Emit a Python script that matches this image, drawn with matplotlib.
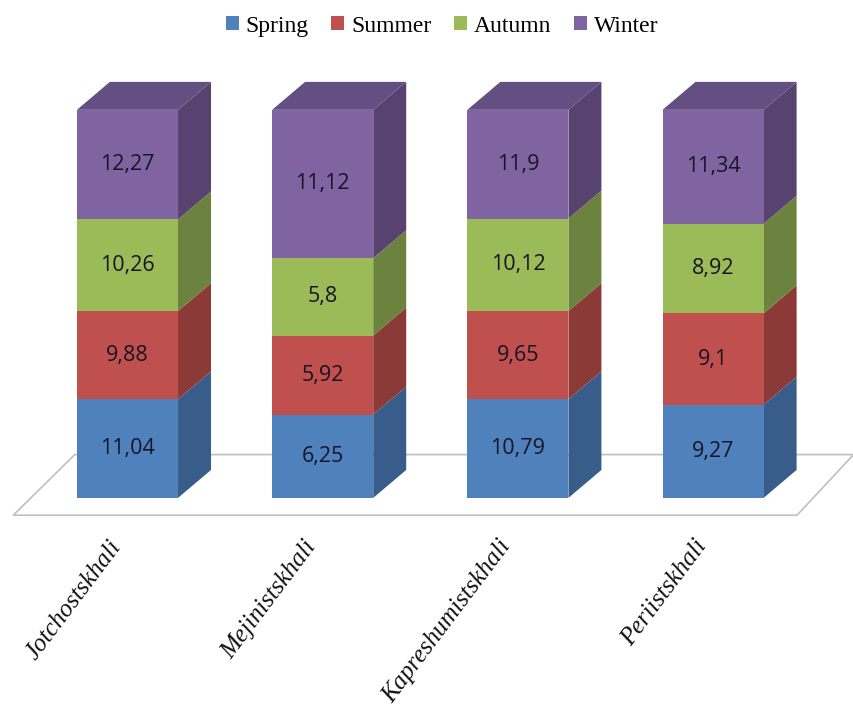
import numpy as np
import matplotlib.pyplot as plt
from matplotlib.patches import Polygon, Patch

rivers = ['Jotchostskhali', 'Mejinistskhali', 'Kapreshumistskhali', 'Periistskhali']
seasons = ['Spring', 'Summer', 'Autumn', 'Winter']
spring = [11.04, 6.25, 10.79, 9.27]
summer = [9.88, 5.92, 9.65, 9.1]
autumn = [10.26, 5.8, 10.12, 8.92]
winter = [12.27, 11.12, 11.9, 11.34]

front_colors = ['#4F81BD', '#C0504D', '#9BBB59', '#8064A2']
side_colors = ['#385D8A', '#8C3A38', '#6B833E', '#584370']
top_colors = ['#41699B', '#A04341', '#80994A', '#644F82']

values = np.array([spring, summer, autumn, winter])
percent = values / values.sum(axis=0) * 100

fig = plt.figure(figsize=(8.54, 7.09), dpi=100)
ax = fig.add_axes([0, 0, 1, 1])
ax.set_xlim(-0.653, 3.722)
ax.set_ylim(-54.4, 128.3)
ax.axis('off')

x = np.arange(len(rivers))
width = 0.518
dx = 0.169   # depth of the 3d box in x units
dy = 7.2     # depth of the 3d box in percent units

# floor
fl = [(-0.585, -0.62 * dy), (3.43, -0.62 * dy), (3.72, 1.55 * dy), (-0.27, 1.55 * dy)]
ax.add_patch(Polygon(fl, closed=True, facecolor='white', edgecolor='#BFBFBF', lw=1.2, zorder=0))

bottom = np.zeros(len(rivers))
for k in range(len(seasons)):
    h = percent[k]
    ax.bar(x, h, width, bottom=bottom, color=front_colors[k], zorder=3)
    for i in range(len(rivers)):
        r = x[i] + width / 2
        b, t = bottom[i], bottom[i] + h[i]
        side = [(r, b), (r + dx, b + dy), (r + dx, t + dy), (r, t)]
        ax.add_patch(Polygon(side, closed=True, facecolor=side_colors[k], lw=0, zorder=2))
        if k == len(seasons) - 1:
            l = x[i] - width / 2
            top = [(l, t), (r, t), (r + dx, t + dy), (l + dx, t + dy)]
            ax.add_patch(Polygon(top, closed=True, facecolor=top_colors[k], lw=0, zorder=2))
        lab = ('%g' % values[k][i]).replace('.', ',')
        ax.text(x[i], b + h[i] / 2, lab, ha='center', va='center', fontsize=15.5,
                family='Open Sans', color='#151525', zorder=5)
    bottom = bottom + h

for i in range(len(rivers)):
    ax.text(x[i] - 0.1, -9.8, rivers[i], rotation=53, rotation_mode='anchor',
            ha='right', va='top', fontsize=18, family='Liberation Serif',
            style='italic', color='#111111')

handles = [Patch(facecolor=front_colors[k], label=seasons[k]) for k in range(len(seasons))]
fig.legend(handles=handles, loc='upper center', bbox_to_anchor=(442 / 854, 1.008), ncol=4,
           frameon=False, handlelength=0.55, handleheight=0.55, handletextpad=0.3,
           columnspacing=0.95, prop={'family': 'Liberation Serif', 'size': 17})

fig.savefig('out.png', dpi=100)
